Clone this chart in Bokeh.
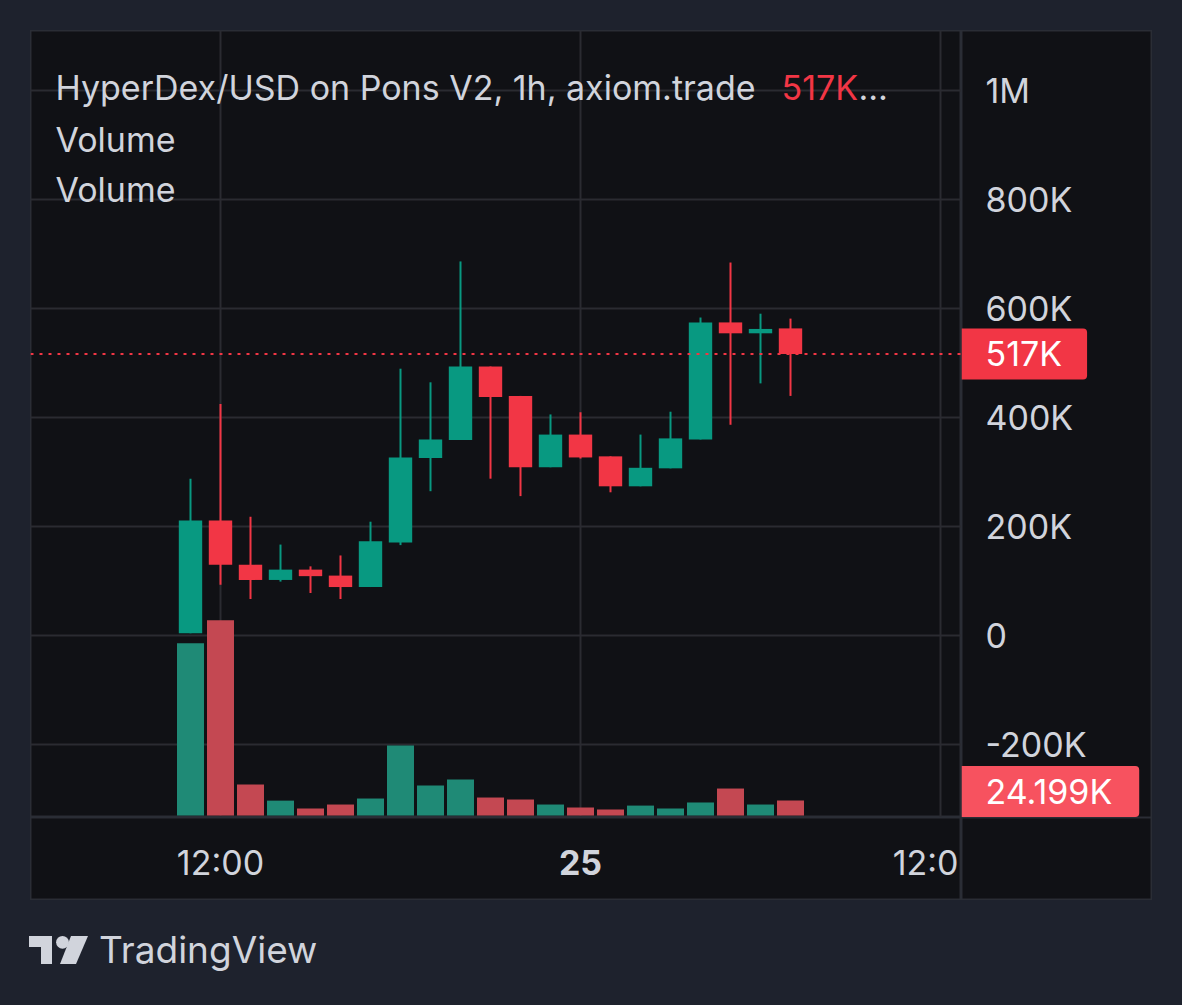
from bokeh.plotting import figure
from bokeh.models import Range1d, FixedTicker, Span, Label, Div, Spacer, ColumnDataSource, Grid
from bokeh.layouts import column, row
from bokeh.embed import file_html
from bokeh.resources import INLINE

# ---------------- data ----------------
times = ["24 11:00", "24 12:00", "24 13:00", "24 14:00", "24 15:00", "24 16:00", "24 17:00",
         "24 18:00", "24 19:00", "24 20:00", "24 21:00", "24 22:00", "24 23:00",
         "25 00:00", "25 01:00", "25 02:00", "25 03:00", "25 04:00", "25 05:00", "25 06:00", "25 07:00"]
opens  = [4000, 211000, 130000, 102000, 121000, 110000, 89000, 171000, 326000, 359000, 494000,
          440000, 309000, 369000, 329000, 274000, 307000, 360000, 575000, 555000, 564000]
highs  = [288000, 425000, 218000, 167000, 127000, 147000, 209000, 490000, 465000, 687000, 494000,
          440000, 406000, 410000, 329000, 369000, 411000, 584000, 685000, 591000, 582000]
lows   = [4000, 93000, 67000, 99000, 78000, 67000, 89000, 166000, 265000, 359000, 288000,
          256000, 309000, 325000, 263000, 274000, 307000, 360000, 387000, 463000, 440000]
closes = [211000, 130000, 102000, 121000, 109000, 89000, 173000, 327000, 360000, 494000, 438000,
          309000, 369000, 327000, 274000, 308000, 362000, 575000, 555000, 563000, 517000]
volumes = [278000, 315000, 50000, 24000, 11300, 17700, 27400, 113000, 48400, 58000, 29000,
           25800, 17700, 12900, 9700, 16000, 11300, 21000, 43500, 17700, 24199]

price_ticks = [-200000, 0, 200000, 400000, 600000, 800000, 1000000]
price_tick_labels = ["-200K", "0", "200K", "400K", "600K", "800K", "1M"]
time_ticks = [12, 24, 36]
time_tick_labels = ["12:00", "25", "12:00"]
time_tick_bold = [False, True, False]

title_text = "HyperDex/USD on Pons V2, 1h, axiom.trade"
pane_names = ["Volume", "Volume"]

# ---------------- styles ----------------
FONT = "Inter"
FS = "34px"
BG_OUT = "#1e222d"
BG = "#101115"
GRID = "#2a2b31"
EDGE = "#2a2d35"
TXT = "#d1d4dc"
UP = "#089981"
DOWN = "#f23645"
VUP = "#1f8a76"
VDOWN = "#c44852"
VTAG = "#f7525f"

# price scale: 0 at 605 px below top of pane, 0.5445 px per 1000
PRICE_TOP = 1111110
PRICE_PANE_BOTTOM = -334250
PRICE_PANEL_BOTTOM = -486690
VOL_TOP = 1266415
VOL_PANE_BOTTOM = -3227
VOL_PANEL_BOTTOM = -137128

x = [(int(t[:2]) - 24) * 24 + int(t[3:5]) for t in times]
up = [c >= o for o, c in zip(opens, closes)]
src = ColumnDataSource(dict(
    x=x, open=opens, high=highs, low=lows, close=closes, vol=volumes,
    top=[max(o, c) for o, c in zip(opens, closes)],
    bottom=[min(o, c) for o, c in zip(opens, closes)],
    color=[UP if u else DOWN for u in up],
    vcolor=[VUP if u else VDOWN for u in up],
))

X_START, X_END = 5.6667, 36.7
xr = Range1d(X_START, X_END)


def base_fig(w, h, x_range, y_range):
    f = figure(width=w, height=h, x_range=x_range, y_range=y_range,
               x_axis_location=None, y_axis_location=None,
               toolbar_location=None, output_backend="svg", min_border=0)
    f.background_fill_color = BG
    f.border_fill_color = BG
    f.outline_line_color = EDGE
    f.outline_line_width = 2
    for g in f.grid:
        g.visible = False
    return f


# ---------------- main pane ----------------
p = base_fig(931, 787, xr, Range1d(PRICE_PANE_BOTTOM, PRICE_TOP))
p.extra_y_ranges = {"vol": Range1d(VOL_PANE_BOTTOM, VOL_TOP)}
p.add_layout(Grid(dimension=0, ticker=FixedTicker(ticks=time_ticks),
                  grid_line_color=GRID, grid_line_width=2))
p.add_layout(Grid(dimension=1, ticker=FixedTicker(ticks=price_ticks),
                  grid_line_color=GRID, grid_line_width=2))

p.vbar(x="x", width=0.9, top="vol", bottom=0, fill_color="vcolor", line_color=None,
       y_range_name="vol", source=src)
p.segment(x0="x", y0="low", x1="x", y1="high", line_color="color", line_width=2, source=src)
p.vbar(x="x", width=0.78, top="top", bottom="bottom", fill_color="color", line_color=None, source=src)

last_close = closes[-1]
last_txt = f"{round(last_close / 1000)}K"
p.add_layout(Span(location=last_close, dimension="width", line_color=DOWN, line_width=2,
                  line_dash="3 6"))

p.add_layout(Label(x=25, y=730, x_units="screen", y_units="screen", text=title_text,
                   text_baseline="middle", text_font=FONT, text_font_size=FS, text_color=TXT))
p.add_layout(Label(x=751, y=730, x_units="screen", y_units="screen", text=last_txt,
                   text_baseline="middle", text_font=FONT, text_font_size=FS, text_color=DOWN))
p.add_layout(Label(x=828, y=730, x_units="screen", y_units="screen", text="\u2026",
                   text_baseline="middle", text_font=FONT, text_font_size=FS, text_color=TXT))
for i, nm in enumerate(pane_names):
    p.add_layout(Label(x=25, y=678 - 50 * i, x_units="screen", y_units="screen", text=nm,
                       text_baseline="middle", text_font=FONT, text_font_size=FS, text_color=TXT))

# ---------------- time axis strip ----------------
pt = base_fig(931, 83, xr, Range1d(-83, 0))
for t, l, b in zip(time_ticks, time_tick_labels, time_tick_bold):
    near_edge = t > X_END - 1.5
    tsrc = ColumnDataSource(dict(x=[X_END if near_edge else t], text=[l[:-1] if near_edge else l]))
    pt.text(x="x", y=-45, text="text", source=tsrc,
            text_align="right" if near_edge else "center", x_offset=-3 if near_edge else 0,
            text_baseline="middle", text_font={"value": FONT}, text_font_size=FS,
            text_font_style="bold" if b else "normal", text_color=TXT)

# ---------------- price axis column ----------------
pp = base_fig(191, 870, Range1d(0, 191), Range1d(PRICE_PANEL_BOTTOM, PRICE_TOP))
pp.extra_y_ranges = {"vol": Range1d(VOL_PANEL_BOTTOM, VOL_TOP)}
pp.add_layout(Span(location=PRICE_PANE_BOTTOM, dimension="width", line_color=EDGE, line_width=2))
psrc = ColumnDataSource(dict(y=price_ticks, text=price_tick_labels))
pp.text(x=0, y="y", text="text", source=psrc, x_offset=24, text_align="left",
        text_baseline="middle", text_font={"value": FONT}, text_font_size=FS, text_color=TXT)

pp.add_layout(Label(x=0, y=last_close, text=last_txt, text_align="left", text_baseline="middle",
                    text_font=FONT, text_font_size=FS, text_color="#ffffff",
                    background_fill_color=DOWN,
                    padding=dict(left=24, right=25, top=5, bottom=5),
                    border_radius=dict(top_left=0, top_right=4, bottom_right=4, bottom_left=0)))
pp.add_layout(Label(x=0, y=volumes[-1], y_range_name="vol", y_offset=9,
                    text=f"{volumes[-1] / 1000:.3f}K", text_align="left", text_baseline="middle",
                    text_font=FONT, text_font_size=FS, text_color="#ffffff",
                    background_fill_color=VTAG,
                    padding=dict(left=24, right=27, top=5, bottom=5),
                    border_radius=dict(top_left=0, top_right=4, bottom_right=4, bottom_left=0)))

# ---------------- logo ----------------
logo_svg = ('<svg width="62" height="32" viewBox="0 0 62 32" style="display:block">'
            '<rect x="0" y="2" width="23" height="11" fill="#d1d4dc"/>'
            '<rect x="12" y="2" width="11" height="28" fill="#d1d4dc"/>'
            '<circle cx="33.5" cy="8.3" r="6.4" fill="#d1d4dc"/>'
            '<polygon points="42,2 59,2 47,30 31,30" fill="#d1d4dc"/></svg>')
logo = Div(text=('<div style="display:flex;align-items:center;height:90px;margin-left:-6px;">'
                 + logo_svg +
                 '<span style="margin-left:8px;font-family:Inter;font-size:37px;color:#d1d4dc;">'
                 'TradingView</span></div>'), width=400, height=105)

layout = column(Spacer(width=1182, height=30),
                row(Spacer(width=30, height=870), column(p, pt), pp, Spacer(width=30, height=870)),
                row(Spacer(width=30, height=105), logo),
                styles={"background-color": BG_OUT})

open("out.html", "w").write(file_html(layout, INLINE))
